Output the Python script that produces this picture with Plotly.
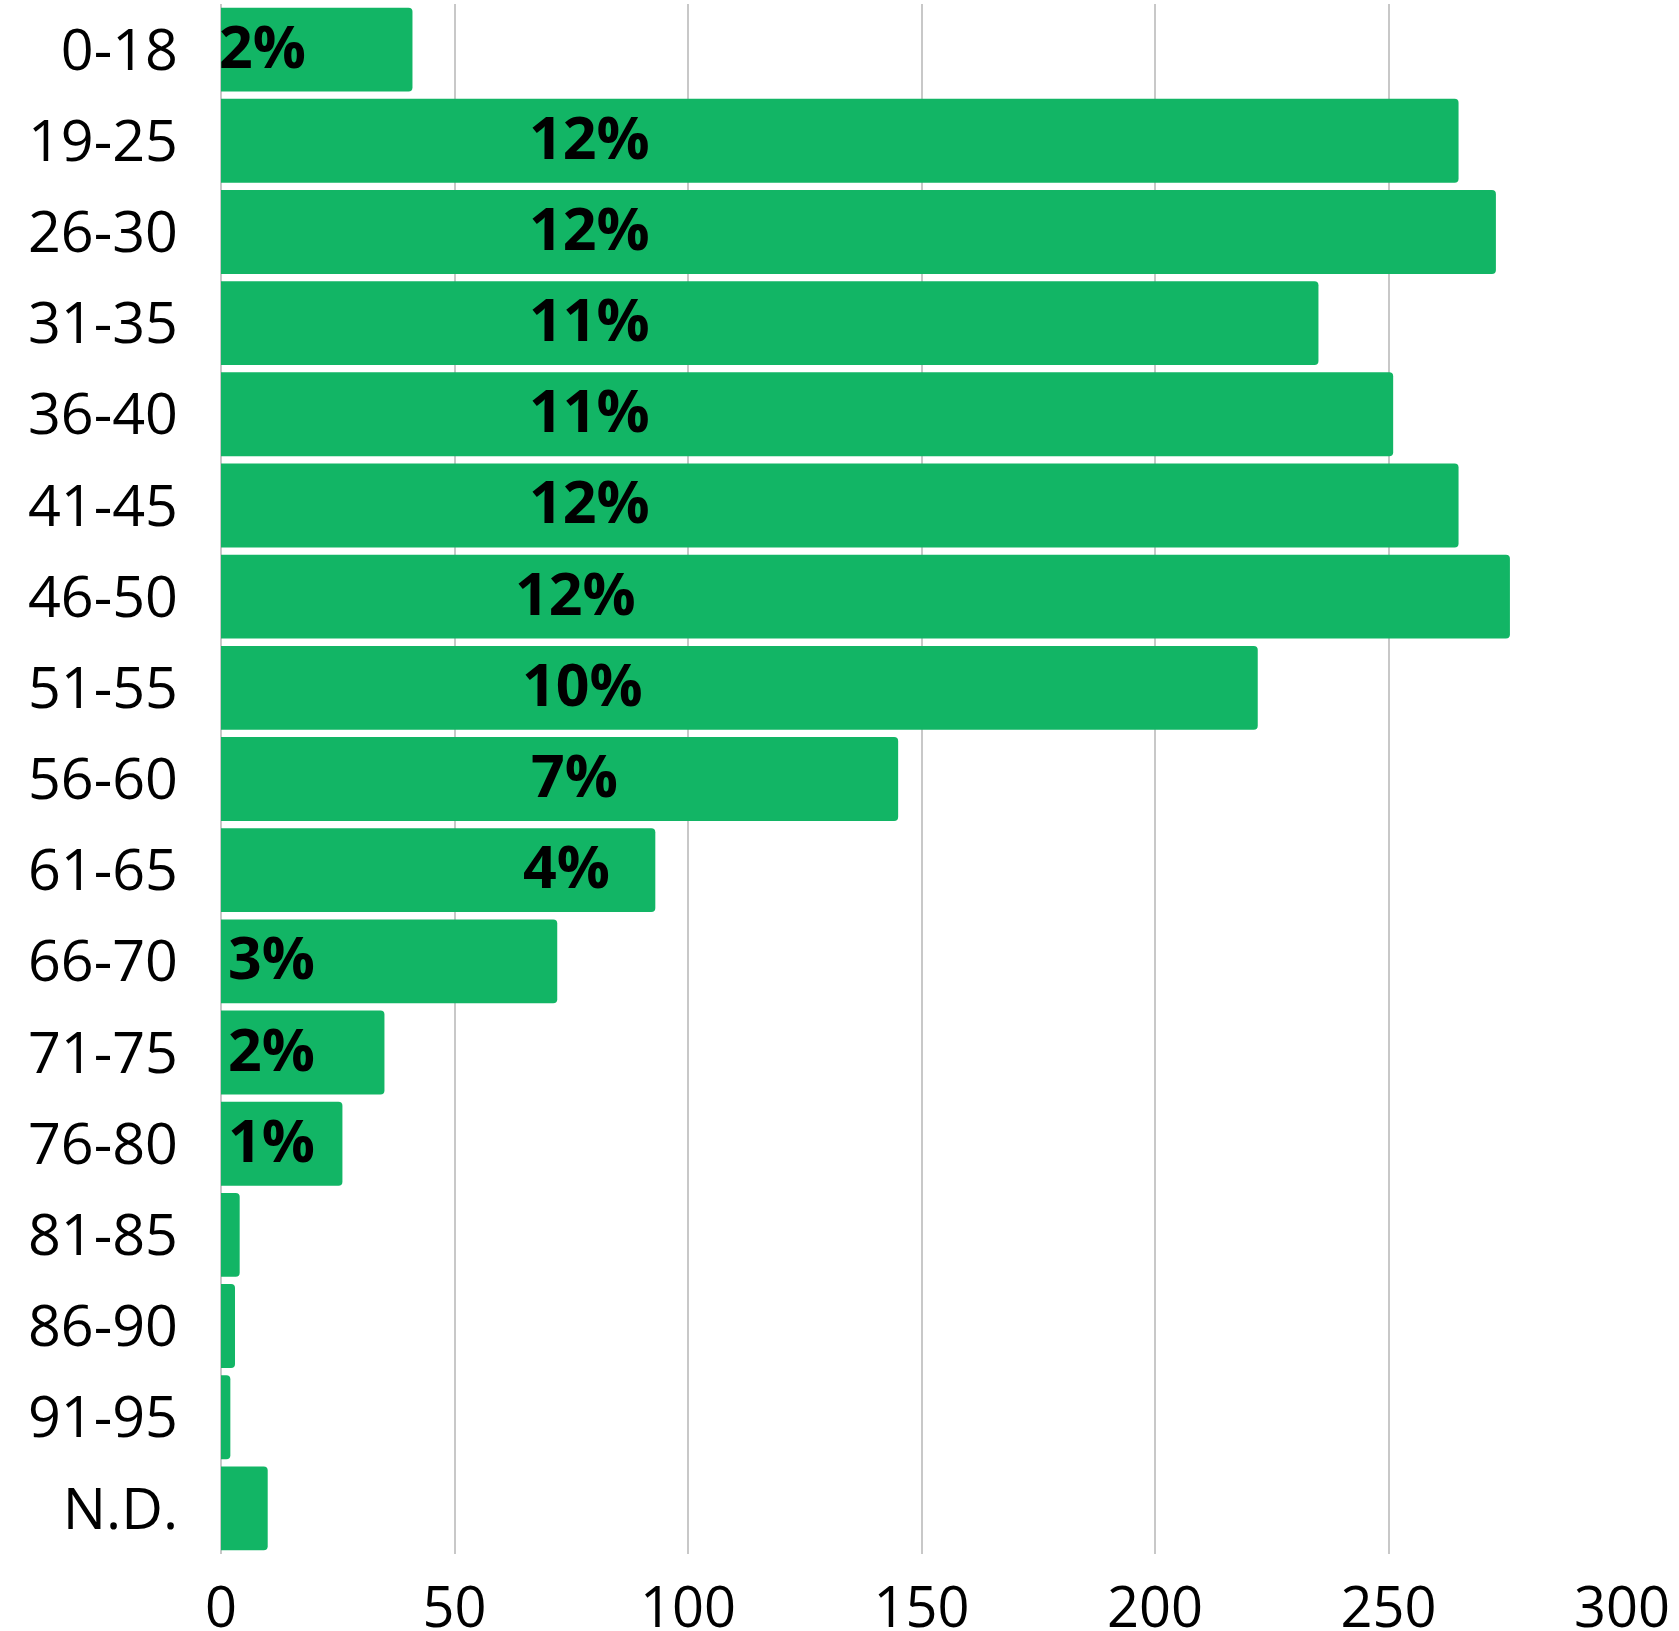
import plotly.graph_objects as go

categories = ["0-18", "19-25", "26-30", "31-35", "36-40", "41-45", "46-50", "51-55",
              "56-60", "61-65", "66-70", "71-75", "76-80", "81-85", "86-90", "91-95", "N.D."]
counts = [41, 265, 273, 235, 251, 265, 276, 222, 145, 93, 72, 35, 26, 4, 3, 2, 10]
pct_labels = ["2%", "12%", "12%", "11%", "11%", "12%", "12%", "10%", "7%", "4%", "3%", "2%", "1%",
              "", "", "", ""]
label_x = [8.9, 78.8, 78.8, 78.8, 78.8, 78.8, 75.9, 77.4, 75.7, 73.9, 10.9, 10.9, 10.9,
           None, None, None, None]
x_ticks = [0, 50, 100, 150, 200, 250, 300]

GREEN = "#12B565"
FONT = "Open Sans"

fig = go.Figure()
fig.add_trace(go.Bar(
    x=counts, y=categories, orientation="h",
    marker=dict(color=GREEN, line=dict(width=0)),
    hoverinfo="x+y",
))

for cat, txt, lx in zip(categories, pct_labels, label_x):
    if txt and lx is not None:
        fig.add_annotation(x=lx, y=cat, text="<b>" + txt + "</b>", showarrow=False,
                           xanchor="center", yanchor="middle", yshift=5,
                           font=dict(family=FONT, size=59, color="#000000"))

fig.update_layout(
    width=1679, height=1631,
    margin=dict(l=221, r=57, t=4, b=77, autoexpand=False),
    paper_bgcolor="white", plot_bgcolor="white",
    bargap=0.08,
    barcornerradius=4,
    showlegend=False,
    font=dict(family=FONT, size=56, color="#000000"),
    xaxis=dict(range=[0, 300], tickvals=x_ticks, showgrid=True, gridcolor="#C8C8C8",
               gridwidth=1.5, zeroline=True, zerolinecolor="#C8C8C8", zerolinewidth=1.5,
               showline=False, ticks="", ticklabelstandoff=16, automargin=False,
               tickfont=dict(family=FONT, size=56, color="#000000")),
    yaxis=dict(categoryorder="array", categoryarray=categories, autorange="reversed",
               showgrid=False, showline=False, ticks="", ticklabelstandoff=42, automargin=False,
               tickfont=dict(family=FONT, size=57.5, color="#000000")),
)

fig.write_html("out.html", config={"displayModeBar": False},
               post_script="document.body.style.margin='0';")
